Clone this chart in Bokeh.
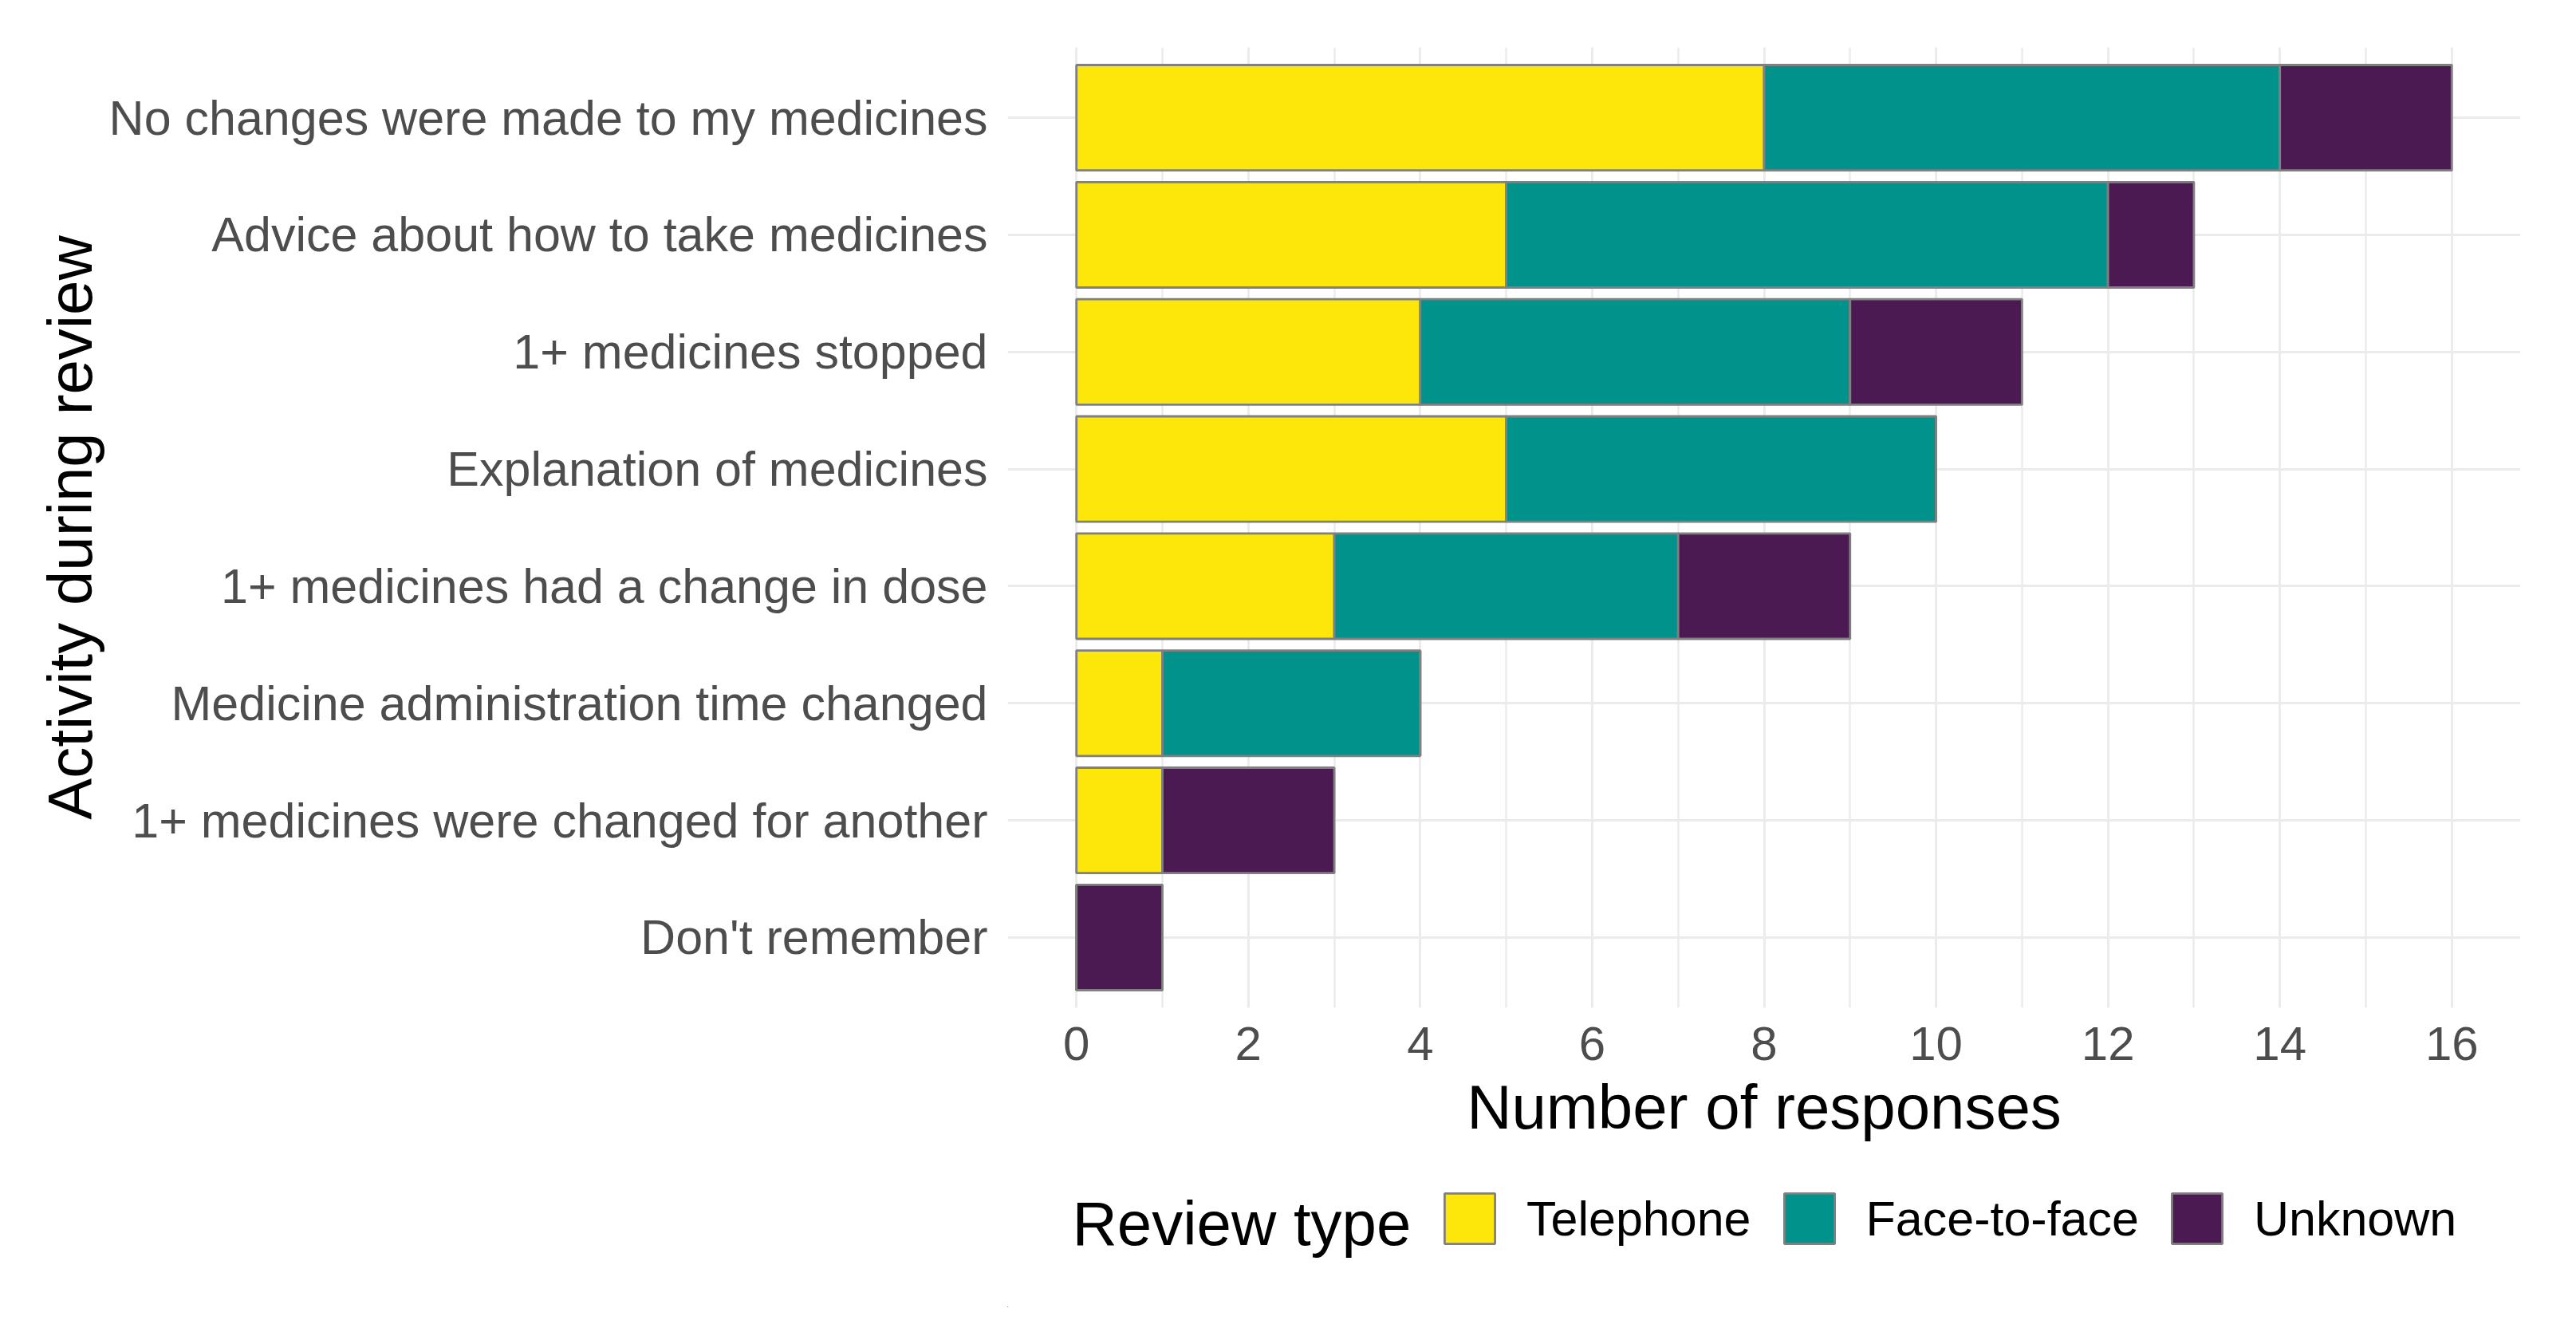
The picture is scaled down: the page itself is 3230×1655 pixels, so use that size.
from bokeh.plotting import figure
from bokeh.layouts import column
from bokeh.models import (Range1d, FactorRange, SingleIntervalTicker, Legend,
                          LegendItem, Label, ColumnDataSource)
from bokeh.embed import file_html
from bokeh.resources import INLINE

categories = [
    "No changes were made to my medicines",
    "Advice about how to take medicines",
    "1+ medicines stopped",
    "Explanation of medicines",
    "1+ medicines had a change in dose",
    "Medicine administration time changed",
    "1+ medicines were changed for another",
    "Don't remember",
]
telephone = [8, 5, 4, 5, 3, 1, 1, 0]
face_to_face = [6, 7, 5, 5, 4, 3, 0, 0]
unknown = [2, 1, 2, 0, 2, 0, 2, 1]
review_types = ["Telephone", "Face-to-face", "Unknown"]
x_ticks = [0, 2, 4, 6, 8, 10, 12, 14, 16]

colors = ["#FDE70A", "#02928C", "#4B1A52"]
FONT = "Liberation Sans"
W = 3214
H_MAIN = 1480
H_LEG = 159
FRAME_L = 1263
FRAME_R = 3160

source = ColumnDataSource(data={
    "cat": categories,
    "Telephone": telephone,
    "Face-to-face": face_to_face,
    "Unknown": unknown,
})

p = figure(
    width=W, height=H_MAIN,
    y_range=FactorRange(factors=list(reversed(categories)),
                        range_padding=0.1, range_padding_units="absolute"),
    x_range=Range1d(-0.8, 16.8),
    output_backend="svg", toolbar_location=None,
    min_border_left=FRAME_L, min_border_right=W - FRAME_R,
    min_border_top=59, min_border_bottom=H_MAIN - 1263,
)
p.outline_line_color = None
p.background_fill_color = "white"

renderers = p.hbar_stack(review_types, y="cat", height=0.9, color=colors,
                         source=source, line_color="#808080", line_width=2.8)

# axes
p.xaxis.ticker = SingleIntervalTicker(interval=2, num_minor_ticks=2)
p.xaxis.axis_line_color = None
p.xaxis.major_tick_line_color = None
p.xaxis.minor_tick_line_color = None
p.xaxis.major_label_text_font = FONT
p.xaxis.major_label_text_font_size = "60px"
p.xaxis.major_label_text_color = "#4D4D4D"
p.xaxis.major_label_standoff = 18
p.xaxis.axis_label = "Number of responses"
p.xaxis.axis_label_text_font = FONT
p.xaxis.axis_label_text_font_size = "78px"
p.xaxis.axis_label_text_font_style = "normal"
p.xaxis.axis_label_text_color = "black"
p.xaxis.axis_label_standoff = 12

p.yaxis.axis_line_color = None
p.yaxis.major_tick_line_color = None
p.yaxis.minor_tick_line_color = None
p.yaxis.major_label_text_font = FONT
p.yaxis.major_label_text_font_size = "61px"
p.yaxis.major_label_text_color = "#4D4D4D"
p.yaxis.major_label_standoff = 19
p.yaxis.axis_label = "Activity during review"
p.yaxis.axis_label_text_font = FONT
p.yaxis.axis_label_text_font_size = "78px"
p.yaxis.axis_label_text_font_style = "normal"
p.yaxis.axis_label_text_color = "black"
p.yaxis.axis_label_standoff = 2

# grids
p.xgrid.grid_line_color = "#EBEBEB"
p.xgrid.grid_line_width = 2.5
p.xgrid.minor_grid_line_color = "#EBEBEB"
p.xgrid.minor_grid_line_width = 2.5
p.ygrid.grid_line_color = "#EBEBEB"
p.ygrid.grid_line_width = 3

# legend strip (separate figure so nothing is clipped by the main frame);
# its frame is aligned with the main frame horizontally
lf = figure(
    width=W, height=H_LEG, x_range=Range1d(FRAME_L, FRAME_R), y_range=Range1d(0, H_LEG),
    output_backend="svg", toolbar_location=None,
    x_axis_type=None, y_axis_type=None,
    min_border_left=FRAME_L, min_border_right=W - FRAME_R,
    min_border_top=0, min_border_bottom=0,
)
lf.outline_line_color = None
lf.xgrid.visible = False
lf.ygrid.visible = False

# key-only renderers (their single bar lies outside the visible range)
key_source = ColumnDataSource(data={"y": [-10000], "left": [0], "right": [1]})
leg_renderers = [
    lf.hbar(y="y", left="left", right="right", height=1, source=key_source,
            fill_color=c, line_color="#808080", line_width=2.8)
    for c in colors
]

legend = Legend(
    items=[LegendItem(label=t, renderers=[r]) for t, r in zip(review_types, leg_renderers)],
    orientation="horizontal", location=(1803 - FRAME_L, 72),
    glyph_width=79, glyph_height=79, label_standoff=32, spacing=33,
    padding=0, margin=0,
    label_text_font=FONT, label_text_font_size="61px", label_text_color="black",
    border_line_color=None, background_fill_alpha=0,
)
lf.add_layout(legend)

lf.add_layout(Label(x=1344, y=106, text="Review type",
                    text_font=FONT, text_font_size="78px",
                    text_color="black", text_baseline="alphabetic"))

layout = column(p, lf, spacing=0)
open("out.html", "w").write(file_html(layout, INLINE))
